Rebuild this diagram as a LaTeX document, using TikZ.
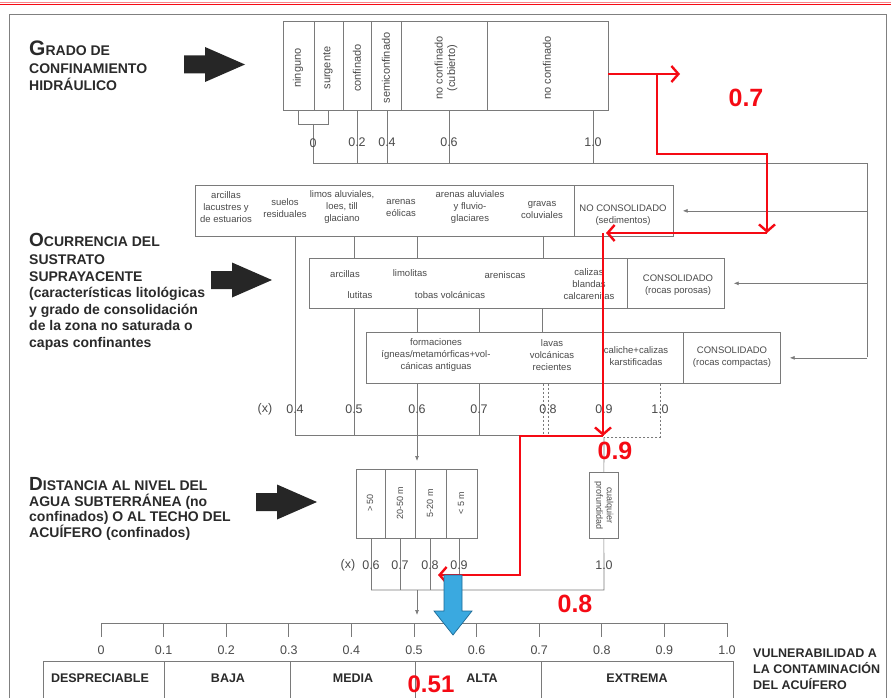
\documentclass[tikz,border=0pt]{standalone}
\usepackage{fontspec}
\setmainfont{Liberation Sans}
\usetikzlibrary{arrows.meta}
\tikzset{>={Latex[width=4pt,length=5pt]}}
\definecolor{linegray}{HTML}{7A7A7A}
\definecolor{txtgray}{HTML}{4A4A4A}
\definecolor{headgray}{HTML}{2A2A2A}
\definecolor{routered}{HTML}{F50A14}
\definecolor{arrowblue}{HTML}{3AA9E0}
\definecolor{bluedark}{HTML}{1D6A96}
\newcommand{\fatarrow}[2]{\fill[black!85, shift={(#1,#2)}]
  (0,-9) -- (21,-9) -- (21,-17.5) -- (61,0) -- (21,17.5) -- (21,9) -- (0,9) -- cycle;}
\tikzset{
  ln/.style={draw=linegray, line width=0.7pt},
  dln/.style={ln, dash pattern=on 2pt off 2pt},
  box/.style={ln, fill=white, inner sep=0pt, anchor=north west},
  lbl/.style={text=txtgray, font=\fontsize{9.5}{12}\selectfont, align=center, inner sep=0pt},
  vlbl/.style={lbl, font=\fontsize{11}{12.5}\selectfont, rotate=90},
  num/.style={text=txtgray, font=\fontsize{12.5}{13}\selectfont, inner sep=0pt},
  head/.style={text=headgray, font=\bfseries\fontsize{14}{16.5}\selectfont, align=left,
    anchor=base west, inner sep=0pt},
  redroute/.style={draw=routered, line width=2.4pt, line join=miter},
  redtip/.style={-{Straight Barb[length=7pt,width=16pt]}},
  score/.style={text=routered, font=\bfseries\fontsize{25}{25}\selectfont, inner sep=0pt},
  cls/.style={text=headgray, font=\bfseries\fontsize{12.5}{13}\selectfont, inner sep=0pt}
}

\begin{document}
\begin{tikzpicture}[x=1pt,y=-1pt]
  \useasboundingbox (0,0) rectangle (891,698);

  % page rules and frame
  \draw[routered!50, line width=0.8pt] (0,2) -- (891,2);
  \draw[routered, line width=1pt] (0,5) -- (891,5);
  \draw[draw=black!50, line width=0.6pt] (9,698) -- (9,14) -- (886,14) -- (886,698);

  % headings (anchored at the baseline of their last line)
  \node[head] (hgrado) at (29,90.5)
    {{\fontsize{21}{21}\selectfont G}RADO DE\\[1.5pt] CONFINAMIENTO\\ HIDRÁULICO};
  \node[head] (hsustrato) at (29,347)
    {{\fontsize{19}{19}\selectfont O}CURRENCIA DEL\\[1.5pt] SUSTRATO\\ SUPRAYACENTE\\
     (características litológicas\\ y grado de consolidación\\ de la zona no saturada o\\
     capas confinantes};
  \node[head, font=\bfseries\fontsize{14}{15.5}\selectfont] (hdistancia) at (29,537)
    {{\fontsize{19}{19}\selectfont D}ISTANCIA AL NIVEL DEL\\ AGUA SUBTERRÁNEA (no\\
     confinados) O AL TECHO DEL\\ ACUÍFERO (confinados)};
  \fatarrow{184}{64.5}
  \fatarrow{211}{280}
  \fatarrow{256}{502}

  % confinamiento
  \node[box, minimum width=325pt, minimum height=89pt] (conf) at (283,21) {};
  \foreach \x in {314,343,371,401,487}
    \draw[ln] (\x,0 |- conf.north) -- (\x,0 |- conf.south);
  \node[vlbl] (ninguno) at (298,68) {ninguno};
  \node[vlbl] (surgente) at (328,68) {surgente};
  \node[vlbl] (confinado) at (357,68) {confinado};
  \node[vlbl] (semiconf) at (386,68) {semiconfinado};
  \node[vlbl] (cubierto) at (446,68) {no confinado\\(cubierto)};
  \node[vlbl] (noconf) at (547,68) {no confinado};

  \draw[ln] (298,0 |- conf.south) |- (328,124) -- (328,0 |- conf.south);
  \coordinate (g0) at (313,124);
  \coordinate (gend) at (867,163);
  \draw[ln] (g0) -- (313,163) -- (gend) -- (867,357);
  \node[num] at (313,143) {0};
  \foreach \x/\v in {357/0.2,387/0.4,449/0.6,593/1.0} {
    \draw[ln] (\x,0 |- conf.south) -- (\x,163);
    \node[num] at (\x,142) {\v};
  }

  % sustrato
  \node[box, minimum width=478pt, minimum height=51pt] (row1) at (195,185) {};
  \draw[ln] (574,0 |- row1.north) -- (574,0 |- row1.south);
  \node[lbl] (arcillas1) at (226,207) {arcillas\\lacustres y\\de estuarios};
  \node[lbl] (suelos) at (285,208) {suelos\\residuales};
  \node[lbl] (limos) at (342,207) {limos aluviales,\\loes, till\\glaciano};
  \node[lbl] (eolicas) at (401,208) {arenas\\eólicas};
  \node[lbl] (fluvio) at (470,207) {arenas aluviales\\y fluvio-\\glaciares};
  \node[lbl] (gravas) at (542,210) {gravas\\coluviales};
  \node[lbl] (nocons) at (623,215) {NO CONSOLIDADO\\(sedimentos)};

  \node[box, minimum width=415pt, minimum height=50pt] (row2) at (309,258) {};
  \draw[ln] (627,0 |- row2.north) -- (627,0 |- row2.south);
  \node[lbl] (arcillas2) at (345,274) {arcillas};
  \node[lbl] (limolitas) at (410,273) {limolitas};
  \node[lbl] (areniscas) at (505,275) {areniscas};
  \node[lbl] (lutitas) at (360,295) {lutitas};
  \node[lbl] (tobas) at (450,295) {tobas volcánicas};
  \node[lbl] (calizas) at (589,284) {calizas\\blandas\\calcarenitas};
  \node[lbl] (porosas) at (678,285) {CONSOLIDADO\\(rocas porosas)};

  \node[box, minimum width=414pt, minimum height=51pt] (row3) at (366,332) {};
  \draw[ln] (683,0 |- row3.north) -- (683,0 |- row3.south);
  \node[lbl] (igneas) at (436,355) {formaciones\\ígneas/metamórficas+vol-\\cánicas antiguas};
  \node[lbl] (lavas) at (552,355) {lavas\\volcánicas\\recientes};
  \node[lbl] (caliche) at (636,356) {caliche+calizas\\karstificadas};
  \node[lbl] (compactas) at (732,357) {CONSOLIDADO\\(rocas compactas)};

  \draw[ln,->,shorten >=9pt] (gend |- row1.east) -- (row1.east);
  \draw[ln,->,shorten >=9pt] (gend |- row2.east) -- (row2.east);
  \draw[ln,->,shorten >=9pt] (gend |- row3.east) -- (row3.east);

  \foreach \x in {354,417,543}
    \draw[ln] (\x,0 |- row1.south) -- (\x,0 |- row2.north);
  \foreach \x in {417,479,542}
    \draw[ln] (\x,0 |- row2.south) -- (\x,0 |- row3.north);
  \draw[ln] (295,0 |- row1.south) -- (295,435) -- (604,435);
  \draw[ln] (354,0 |- row2.south) -- (354,435);
  \draw[ln] (417,0 |- row3.south) -- (417,435);
  \draw[ln] (479,0 |- row3.south) -- (479,435);
  \draw[dln] (543,0 |- row3.south) -- (543,435);
  \draw[dln] (548,0 |- row3.south) -- (548,435);
  \draw[dln] (660,0 |- row3.south) -- (660,437) -- (604,437);
  \node[num] at (265,409) {(x)};
  \foreach \x/\v in {295/0.4,354/0.5,417/0.6,479/0.7,548/0.8,604/0.9,660/1.0}
    \node[num] at (\x,409) {\v};

  % distancia
  \node[box, minimum width=121pt, minimum height=69pt] (dist) at (356,469) {};
  \foreach \x in {385,415,446}
    \draw[ln] (\x,0 |- dist.north) -- (\x,0 |- dist.south);
  \node[vlbl, font=\fontsize{9}{11}\selectfont] (d50) at (370,503) {> 50};
  \node[vlbl, font=\fontsize{9}{11}\selectfont] (d2050) at (400,503) {20-50 m};
  \node[vlbl, font=\fontsize{9}{11}\selectfont] (d520) at (430,503) {5-20 m};
  \node[vlbl, font=\fontsize{9}{11}\selectfont] (d5) at (461,503) {< 5 m};
  \node[box, minimum width=29pt, minimum height=66pt] (anydepth) at (589,472) {};
  \node[lbl, font=\fontsize{9}{10.5}\selectfont, rotate=-90] (cualquier) at (anydepth.center)
    {cualquier\\profundidad};
  \draw[ln,->,shorten >=8pt] (417,435) -- (417,0 |- dist.north);
  \draw[ln] (604,437) -- (anydepth.north);

  \foreach \x in {371,400,430,459}
    \draw[ln] (\x,0 |- dist.south) -- (\x,590);
  \draw[ln] (anydepth.south) -- (604,590) -- (371,590);
  \node[num] at (348,565) {(x)};
  \foreach \x/\v in {371/0.6,400/0.7,430/0.8,459/0.9,604/1.0}
    \node[num] at (\x,565) {\v};

  % vulnerabilidad
  \draw[ln] (101,623) -- (727,623);
  \foreach \i/\v in {0/0,1/0.1,2/0.2,3/0.3,4/0.4,5/0.5,6/0.6,7/0.7,8/0.8,9/0.9,10/1.0} {
    \draw[ln] (101+62.6*\i,623) -- (101+62.6*\i,637);
    \node[num] at (101+62.6*\i,650) {\v};
  }
  \draw[ln,->,shorten >=8pt] (417,590) -- (417,623);
  \node[box, minimum width=690pt, minimum height=37pt] (classes) at (43,661) {};
  \foreach \x in {164,290,415,541}
    \draw[ln] (\x,0 |- classes.north) -- (\x,0 |- classes.south);
  \node[cls] (despreciable) at (100,678) {DESPRECIABLE};
  \node[cls] (baja) at (228,678) {BAJA};
  \node[cls] (media) at (353,678) {MEDIA};
  \node[cls] (alta) at (482,678) {ALTA};
  \node[cls] (extrema) at (637,678) {EXTREMA};
  \node[head, font=\bfseries\fontsize{12.5}{16}\selectfont] (hvulner) at (753,689)
    {VULNERABILIDAD A\\ LA CONTAMINACIÓN\\ DEL ACUÍFERO};

  % recorrido del ejemplo
  \draw[redroute, redtip] (608,74) -- (680,74);
  \draw[redroute, redtip] (657,74) -- (657,154) -- (767,154) -- (767,233);
  \draw[redroute, redtip] (767,233) -- (606,233);
  \draw[redroute, redtip] (603,233) -- (603,436);
  \draw[redroute, redtip] (603,436) -- (520,436) -- (520,575) -- (438,575);
  \node[score] (s07) at (746,98) {0.7};
  \node[score] (s09) at (615,451) {0.9};
  \node[score] (s08) at (575,604) {0.8};
  \node[score, font=\bfseries\fontsize{24}{24}\selectfont] (s051) at (431,684) {0.51};

  \filldraw[fill=arrowblue, draw=bluedark, line width=0.7pt]
    (444,575) -- (462,575) -- (462,611) -- (472,611) -- (453,635) -- (434,611) -- (444,611) -- cycle;
\end{tikzpicture}
\end{document}
